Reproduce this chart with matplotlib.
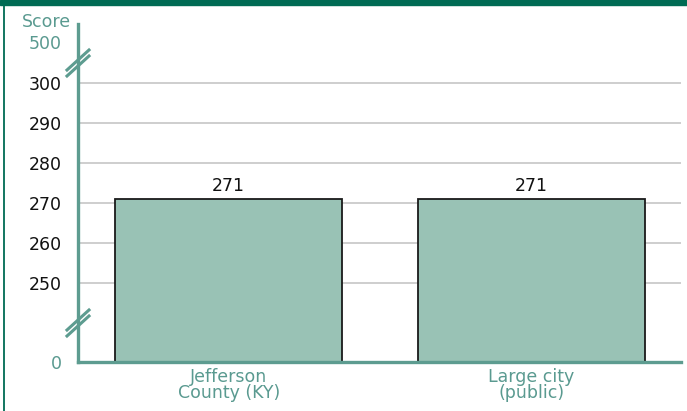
import numpy as np
import matplotlib
matplotlib.use("Agg")
import matplotlib.pyplot as plt
from matplotlib.lines import Line2D
from matplotlib.patches import Rectangle

categories = ["Jefferson\nCounty (KY)", "Large city\n(public)"]
scores = [271, 271]
ytick_values = [0, 250, 260, 270, 280, 290, 300, 500]
ytick_labels = ["0", "250", "260", "270", "280", "290", "300", "500"]
grid_values = [250, 260, 270, 280, 290, 300]

W, H = 687, 411
TEAL = "#5d9c90"
TEXT_TEAL = "#5a9a90"
BAR = "#99c2b5"
DARK = "#006b54"
FS = 12.5

# piecewise (broken) y scale: value knots -> pixel heights above axis
knots_v = np.array([0, 250, 300, 500, 600], dtype=float)
knots_p = np.array([0, 79, 279, 320, 338], dtype=float)

def fwd(v):
    return np.interp(v, knots_v, knots_p)

def inv(p):
    return np.interp(p, knots_p, knots_v)

fig = plt.figure(figsize=(W / 100, H / 100), dpi=100)
plt.rcParams["font.family"] = ["DejaVu Sans"]

def fx(x):
    return x / W

def fy(y):
    return (H - y) / H

ax_left, ax_right, ax_bottom, ax_top = 78, 681, 362, 24
ax = fig.add_axes([fx(ax_left), fy(ax_bottom), (ax_right - ax_left) / W, (ax_bottom - ax_top) / H])
ax.set_yscale("function", functions=(fwd, inv))
ax.set_ylim(0, 600)
ax.set_xlim(-0.498, 1.495)

for g in grid_values:
    ax.axhline(g, color="#c6c6c6", lw=1.2, zorder=1)

x = np.arange(len(categories))
ax.bar(x, scores, width=0.75, color=BAR, edgecolor="#1a1a1a", linewidth=1.3, zorder=3)
for xi, s in zip(x, scores):
    ax.annotate(str(s), (xi, s), xytext=(0, 3), textcoords="offset points",
                ha="center", va="bottom", fontsize=FS, color="#111111")

for side in ["top", "right"]:
    ax.spines[side].set_visible(False)
for side in ["left", "bottom"]:
    ax.spines[side].set_color(TEAL)
    ax.spines[side].set_linewidth(2.4)
    ax.spines[side].set_zorder(4)

ax.set_yticks(ytick_values)
ax.set_yticklabels(ytick_labels)
ax.yaxis.set_minor_locator(matplotlib.ticker.NullLocator())
ax.tick_params(axis="y", length=0, pad=11.5, labelsize=FS, labelcolor="#111111")
for lbl, v in zip(ax.get_yticklabels(), ytick_values):
    if v in (0, 500):
        lbl.set_color(TEXT_TEAL)

ax.set_xticks(x)
ax.set_xticklabels(categories, linespacing=0.92)
ax.tick_params(axis="x", length=0, pad=4, labelsize=FS, labelcolor=TEXT_TEAL)

fig.text(fx(71), fy(22), "Score", ha="right", va="center", fontsize=FS, color=TEXT_TEAL)

# break marks on y axis
for cy in (63, 323):
    for off in (-3, 3):
        fig.add_artist(Line2D([fx(67), fx(89)], [fy(cy + off + 10), fy(cy + off - 10)],
                              color=TEAL, lw=2.2, transform=fig.transFigure, zorder=6))

# frame: dark top band and thin left border
fig.add_artist(Rectangle((0, fy(5)), 1, 5 / H, transform=fig.transFigure,
                         color=DARK, zorder=10))
fig.add_artist(Line2D([fx(3.5), fx(3.5)], [0, 1], color=DARK, lw=1.3,
                      transform=fig.transFigure, zorder=10))

fig.savefig("out.png", dpi=100)
